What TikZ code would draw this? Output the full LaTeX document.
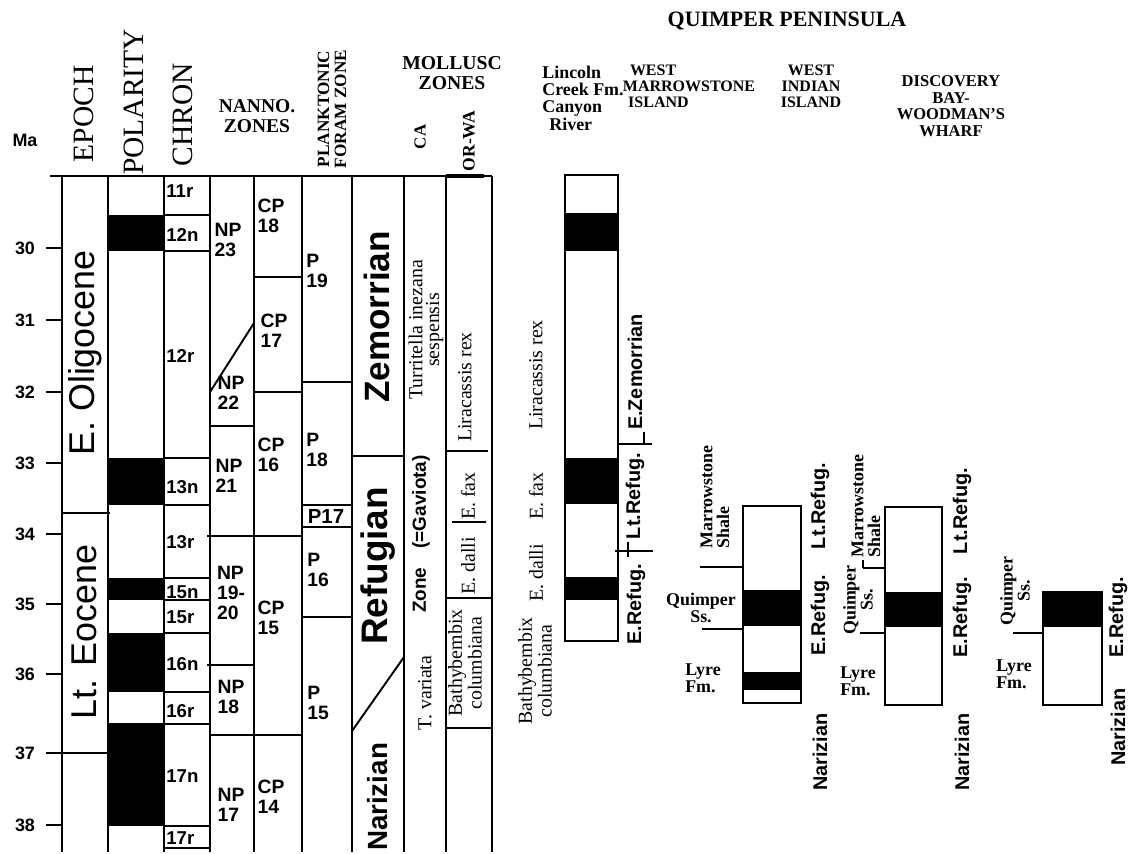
\documentclass[tikz,border=0pt]{standalone}
\usepackage{fontspec}
\setmainfont{Liberation Serif}
\setsansfont{Liberation Sans}
\usetikzlibrary{positioning}

\tikzset{
  rule/.style={line width=1.1pt},
  colbox/.style={draw, line width=1.1pt},
  malbl/.style={font=\sffamily\bfseries\fontsize{10.2}{11}\selectfont, inner sep=0pt},
  chronlbl/.style={font=\sffamily\bfseries\fontsize{10.6}{12}\selectfont, inner sep=0pt, anchor=west},
  zonelbl/.style={font=\sffamily\bfseries\fontsize{11}{11.3}\selectfont, inner sep=0pt, align=left},
  epochlbl/.style={font=\sffamily\fontsize{20.4}{22}\selectfont, rotate=90, inner sep=0pt},
  stagelbl/.style={font=\sffamily\bfseries\fontsize{#1}{22}\selectfont, rotate=90, inner sep=0pt},
  molllbl/.style={font=\rmfamily\fontsize{11.3}{9.6}\selectfont, rotate=90, inner sep=0pt, align=center},
  agelbl/.style={font=\sffamily\bfseries\fontsize{11.3}{12}\selectfont, rotate=90, inner sep=0pt},
  colhead/.style={font=\rmfamily\fontsize{16.8}{18}\selectfont, rotate=90, inner sep=0pt},
  boldhead/.style={font=\rmfamily\bfseries\fontsize{#1}{#1}\selectfont, inner sep=0pt, align=center},
  fmlbl/.style={font=\rmfamily\bfseries\fontsize{10.2}{9.6}\selectfont, inner sep=0pt, align=left}
}

\begin{document}
\begin{tikzpicture}[x=0.02cm, y=-0.02cm]
  \useasboundingbox (0,0) rectangle (1129,854);

  % time axis
  \node[malbl] (ma) at (25,140) {Ma};
  \foreach \m/\y in {30/248, 31/320, 32/392, 33/463, 34/534, 35/604, 36/674, 37/753, 38/825} {
    \node[malbl] (ma\m) at (25,\y) {\m};
    \draw[rule] (46,\y) -- (62,\y);
  }
  \draw[rule] (62,753) -- (108,753);

  % frame of the left chart
  \draw[rule] (50,176) -- (492,176);
  \foreach \x in {62,108,164,210,254,302,352,404,446,492}
    \draw[rule] (\x,176) -- (\x,852);
  \draw[line width=2.6pt] (446,176) -- (484,176);

  % column heads
  \node[colhead] (hepoch) at (84,114) {EPOCH};
  \node[colhead] (hpol) at (134,102) {POLARITY};
  \node[colhead] (hchron) at (183,115) {CHRON};
  \node[boldhead=11.1] (hnanno) at (257,116) {NANNO.\\ZONES};
  \node[boldhead=9.8, rotate=90] (hforam) at (332,109) {PLANKTONIC\\FORAM ZONE};
  \node[boldhead=11.2] (hmoll) at (452,73) {MOLLUSC\\ZONES};
  \node[boldhead=9.6, rotate=90] (hca) at (420,137) {CA};
  \node[boldhead=10, rotate=90] (horwa) at (469,141) {OR-WA};

  % epochs
  \draw[rule] (62,513) -- (110,513);
  \node[epochlbl] (eolig) at (85,353) {E. Oligocene};
  \node[epochlbl] (leoc) at (84,632) {Lt. Eocene};

  % polarity and chrons
  \foreach \a/\b in {215/251, 458/505, 578/600, 633/692, 723/826}
    \fill (108,\a) rectangle (164,\b);
  \foreach \y in {215,251,458,505,578,600,633,692,724,826,848}
    \draw[rule] (164,\y) -- (210,\y);
  \foreach \c/\y in {11r/191, 12n/235, 12r/356, 13n/487, 13r/542, 15n/592,
                     15r/617, 16n/664, 16r/711, 17n/776, 17r/838}
    \node[chronlbl] (ch\c) at (166,\y) {\c};

  % nannofossil zones
  \draw[rule] (210,392) -- (254,323);
  \draw[rule] (210,426) -- (254,426);
  \draw[rule] (207,536) -- (302,536);
  \draw[rule] (207,665) -- (254,665);
  \draw[rule] (210,735) -- (302,735);
  \draw[rule] (254,277) -- (302,277);
  \draw[rule] (254,392) -- (302,392);
  \foreach \n/\t/\x/\y in {np23/{NP\\23}/228/240, np22/{NP\\22}/231/393,
      np21/{NP\\21}/229/476, np19/{NP\\19-\\20}/231/593, np18/{NP\\18}/231/697,
      np17/{NP\\17}/231/805, cp18/{CP\\18}/271/216, cp17/{CP\\17}/274/331,
      cp16/{CP\\16}/271/455, cp15/{CP\\15}/271/618, cp14/{CP\\14}/271/797}
    \node[zonelbl] (\n) at (\x,\y) {\t};

  % planktonic foram zones
  \foreach \y in {382,505,527,617}
    \draw[rule] (302,\y) -- (352,\y);
  \foreach \n/\t/\x/\y in {p19/{P\\19}/317/271, p18/{P\\18}/317/450,
      p16/{P\\16}/318/570, p15/{P\\15}/318/703}
    \node[zonelbl] (\n) at (\x,\y) {\t};
  \node[zonelbl, font=\sffamily\bfseries\fontsize{11.6}{12}\selectfont] (p17) at (326,516) {P17};

  % stages
  \draw[rule] (352,456) -- (404,456);
  \draw[rule] (352,731) -- (404,657);
  \node[stagelbl=20] (zem) at (377,317) {Zemorrian};
  \node[stagelbl=21] (ref) at (378,566) {Refugian};
  \node[stagelbl=15.8] (nar) at (378,797) {Narizian};

  % mollusc zones, CA
  \node[molllbl] (turr) at (426,330) {Turritella inezana\\sespensis};
  \node[agelbl, font=\sffamily\bfseries\fontsize{10.8}{12}\selectfont] (gav) at (421,534) {Zone\quad(=Gaviota)};
  \node[molllbl] (tvar) at (425,693) {T. variata};

  % mollusc zones, OR-WA
  \draw[rule] (446,451) -- (488,451);
  \draw[rule] (452,522) -- (486,522);
  \draw[rule] (446,598) -- (492,598);
  \draw[rule] (446,728) -- (492,728);
  \node[molllbl] (lrex) at (465,387) {Liracassis rex};
  \node[molllbl] (efax) at (468,496) {E. fax};
  \node[molllbl] (edal) at (468,566) {E. dalli};
  \node[molllbl] (bath) at (465,663) {Bathybembix\\columbiana};

  % Quimper Peninsula sections
  \node[boldhead=12.5] (qp) at (787,21) {QUIMPER PENINSULA};
  \node[boldhead=10.2, align=left, font=\rmfamily\bfseries\fontsize{10.2}{9.9}\selectfont]
    (hlinc) at (583,98) {Lincoln\\Creek Fm.\\Canyon\\\hspace{4pt}River};
  \node[boldhead=9.1, align=left] (hwm) at (689,86) {\hspace{4pt}WEST\\MARROWSTONE\\\hspace{3pt}ISLAND};
  \node[boldhead=9.1] (hwi) at (811,86) {WEST\\INDIAN\\ISLAND};
  \node[boldhead=9.4] (hdb) at (951,106) {DISCOVERY\\BAY-\\WOODMAN'S\\WHARF};

  % Lincoln Creek Fm., Canyon River
  \draw[colbox] (565,175) rectangle (618,641);
  \foreach \a/\b in {213/251, 458/504, 577/600}
    \fill (565,\a) rectangle (618,\b);
  \draw[rule] (618,444) -- (652,444);
  \draw[rule] (644,432) -- (644,444);
  \draw[rule] (615,551) -- (653,551);
  \draw[rule] (628,542) -- (628,557);
  \node[molllbl] (llrex) at (536,375) {Liracassis rex};
  \node[molllbl] (lefax) at (536,496) {E. fax};
  \node[molllbl] (ledal) at (536,573) {E. dalli};
  \node[molllbl] (lbath) at (535,671) {Bathybembix\\columbiana};
  \node[agelbl] (lezem) at (635,372) {E.Zemorrian};
  \node[agelbl] (llref) at (635,496) {Lt.Refug.};
  \node[agelbl] (leref) at (636,604) {E.Refug.};

  % West Marrowstone Island
  \draw[colbox] (743,506) rectangle (801,703);
  \foreach \a/\b in {590/626, 672/690}
    \fill (743,\a) rectangle (801,\b);
  \draw[rule] (700,567) -- (743,567);
  \draw[rule] (702,629) -- (743,629);
  \node[fmlbl, rotate=90] (wmsh) at (715,497) {Marrowstone\\Shale};
  \node[fmlbl, align=center] (wmqs) at (701,608) {Quimper\\Ss.};
  \node[fmlbl] (wmly) at (703,678) {Lyre\\Fm.};
  \node[agelbl] (wmlr) at (820,506) {Lt.Refug.};
  \node[agelbl] (wmer) at (820,615) {E.Refug.};
  \node[agelbl] (wmna) at (820,752) {Narizian};

  % West Indian Island
  \draw[colbox] (885,507) rectangle (942,705);
  \fill (885,592) rectangle (942,627);
  \draw[rule] (863,568) -- (885,568);
  \draw[rule] (863,560) -- (863,568);
  \draw[rule] (860,633) -- (885,633);
  \node[fmlbl, rotate=90] (wish) at (866,506) {Marrowstone\\Shale};
  \node[fmlbl, rotate=90, align=center] (wiqs) at (858,600) {Quimper\\Ss.};
  \node[fmlbl] (wily) at (858,681) {Lyre\\Fm.};
  \node[agelbl] (wilr) at (962,511) {Lt.Refug.};
  \node[agelbl] (wier) at (962,617) {E.Refug.};
  \node[agelbl] (wina) at (962,752) {Narizian};

  % Discovery Bay - Woodman's Wharf
  \draw[colbox] (1043,592) rectangle (1102,705);
  \fill (1043,592) rectangle (1102,627);
  \draw[rule] (1013,633) -- (1043,633);
  \node[fmlbl, rotate=90, align=center] (dbqs) at (1015,591) {Quimper\\Ss.};
  \node[fmlbl] (dbly) at (1014,674) {Lyre\\Fm.};
  \node[agelbl] (dber) at (1118,617) {E.Refug.};
  \node[agelbl] (dbna) at (1118,727) {Narizian};
\end{tikzpicture}
\end{document}
